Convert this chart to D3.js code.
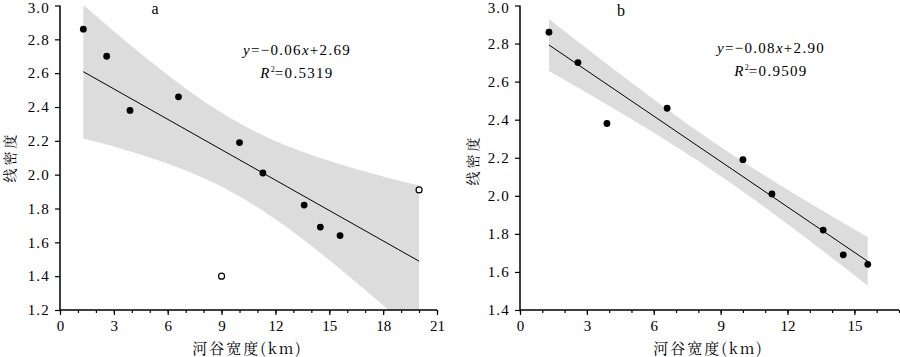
<!DOCTYPE html>
<html><head><meta charset="utf-8">
<script src="https://cdn.jsdelivr.net/npm/d3@7"></script>
<style>
body{margin:0;background:#fff;}
svg{display:block;}
text{font-family:"Liberation Serif","Times New Roman",serif;fill:#000;}
.cjk{font-family:"Noto Serif CJK SC","Noto Sans CJK SC",sans-serif;}
</style></head>
<body>
<svg id="c" width="900" height="357"></svg>
<script>
// ---- data ----
const widthA   = [1.3, 2.6, 3.9, 6.6, 10.0, 11.3, 13.6, 14.5, 15.6, 9.0, 20.0];
const densityA = [2.86, 2.70, 2.38, 2.46, 2.19, 2.01, 1.82, 1.69, 1.64, 1.40, 1.91];
const openA    = [false,false,false,false,false,false,false,false,false,true,true];
const widthB   = [1.3, 2.6, 3.9, 6.6, 10.0, 11.3, 13.6, 14.5, 15.6];
const densityB = [2.86, 2.70, 2.38, 2.46, 2.19, 2.01, 1.82, 1.69, 1.64];
const xTicksA = [0, 3, 6, 9, 12, 15, 18, 21];
const yTicksA = [1.2, 1.4, 1.6, 1.8, 2.0, 2.2, 2.4, 2.6, 2.8, 3.0];
const xTicksB = [0, 3, 6, 9, 12, 15];
const yTicksB = [1.4, 1.6, 1.8, 2.0, 2.2, 2.4, 2.6, 2.8, 3.0];
const eqA = ["−0.06", "+2.69", "0.5319"];
const eqB = ["−0.08", "+2.90", "0.9509"];
const tCrit = [2.262, 2.365]; // t(0.975, df) for n=11, n=9
const xLabel = "河谷宽度(km)";
const yLabel = "线密度";

const svg = d3.select("#c");

function fit(xs, ys){
  const n = xs.length, mx = d3.mean(xs), my = d3.mean(ys);
  let sxx=0, sxy=0;
  xs.forEach((x,i)=>{sxx+=(x-mx)*(x-mx); sxy+=(x-mx)*(ys[i]-my);});
  const b = sxy/sxx, a = my - b*mx;
  let sse=0; xs.forEach((x,i)=>{const r=ys[i]-(a+b*x); sse+=r*r;});
  const s = Math.sqrt(sse/(n-2));
  return {a,b,s,n,mx,sxx};
}

function panel(o){
  const g = svg.append("g");
  const x = d3.scaleLinear().domain(o.xDom).range(o.xR);
  const y = d3.scaleLinear().domain(o.yDom).range(o.yR);
  const id = "clip"+o.name;
  svg.append("clipPath").attr("id",id).append("rect")
    .attr("x",o.xR[0]).attr("y",o.yR[1]).attr("width",o.xR[1]-o.xR[0]).attr("height",o.yR[0]-o.yR[1]);

  const f = fit(o.xs, o.ys);
  const x0 = d3.min(o.xs), x1 = d3.max(o.xs);
  const samp = d3.range(0,101).map(i=>x0+(x1-x0)*i/100);
  const hw = v => o.t*f.s*Math.sqrt(1/f.n + (v-f.mx)*(v-f.mx)/f.sxx);
  const area = d3.area().x(d=>x(d)).y0(d=>y(f.a+f.b*d-hw(d))).y1(d=>y(f.a+f.b*d+hw(d)));
  g.append("path").attr("d",area(samp)).attr("fill","#dcdcdc").attr("clip-path",`url(#${id})`);
  g.append("line").attr("x1",x(x0)).attr("x2",x(x1)).attr("y1",y(f.a+f.b*x0)).attr("y2",y(f.a+f.b*x1))
    .attr("stroke","#000").attr("stroke-width",1);

  // axes
  const xa = g.append("g").attr("transform",`translate(0,${o.yR[0]})`)
    .call(d3.axisBottom(x).tickValues(d3.range(o.xDom[0],o.xDom[1]+1,1)).tickSize(3).tickFormat(""));
  xa.select(".domain").remove();
  const xb = g.append("g").attr("transform",`translate(0,${o.yR[0]})`)
    .call(d3.axisBottom(x).tickValues(o.xTicks).tickSize(5).tickPadding(5).tickFormat(d3.format("d")));
  xb.select(".domain").remove();
  xb.selectAll("text").style("font-size","15px");
  const yb = g.append("g").attr("transform",`translate(${o.xR[0]},0)`)
    .call(d3.axisLeft(y).tickValues(o.yTicks).tickSize(5).tickPadding(5).tickFormat(d3.format(".1f")));
  yb.select(".domain").remove();
  yb.selectAll("text").style("font-size","15px").attr("letter-spacing","1.2px")
    .attr("dy", d => d === o.yDom[1] ? "0.45em" : "0.32em");
  g.selectAll(".tick line").attr("stroke","#000").attr("stroke-width",1.2);
  g.append("path").attr("d",`M${o.xR[0]},${o.yR[1]}V${o.yR[0]}H${o.xR[1]}`)
    .attr("fill","none").attr("stroke","#000").attr("stroke-width",1.5);

  // points
  g.selectAll("circle.p").data(o.xs.map((v,i)=>({x:v,y:o.ys[i]})).filter((d,i)=>!(o.open&&o.open[i]))).enter()
    .append("circle").attr("cx",d=>x(d.x)).attr("cy",d=>y(d.y)).attr("r",3.4).attr("fill","#000");
  if(o.open){
    g.selectAll("circle.o").data(o.xs.map((v,i)=>({x:v,y:o.ys[i]})).filter((d,i)=>o.open[i])).enter()
      .append("circle").attr("cx",d=>x(d.x)).attr("cy",d=>y(d.y)).attr("r",3)
      .attr("fill","#fff").attr("stroke","#000").attr("stroke-width",1.2);
  }

  // labels
  g.append("text").attr("x",o.tagX).attr("y",o.tagY).attr("text-anchor","middle")
    .style("font-size","16px").text(o.name);
  const e1 = g.append("text").attr("x",o.eqX).attr("y",o.eqY).attr("text-anchor","middle")
    .style("font-size","15px").attr("letter-spacing","1.3px");
  e1.append("tspan").attr("font-style","italic").text("y");
  e1.append("tspan").text("=" + o.eq[0]);
  e1.append("tspan").attr("font-style","italic").text("x");
  e1.append("tspan").text(o.eq[1]);
  const e2 = g.append("text").attr("x",o.eqX).attr("y",o.eqY+23).attr("text-anchor","middle")
    .style("font-size","15px").attr("letter-spacing","1.3px");
  e2.append("tspan").attr("font-style","italic").text("R");
  e2.append("tspan").attr("dy",-6).style("font-size","8px").attr("letter-spacing","0px").text("2");
  e2.append("tspan").attr("dy",6).text("=" + o.eq[2]);

  g.append("text").attr("class","cjk").attr("x",(o.xR[0]+o.xR[1])/2 + o.xlOff).attr("y",354)
    .attr("text-anchor","middle").style("font-size","15px").attr("letter-spacing","2px").text(xLabel);
  g.append("text").attr("class","cjk").attr("transform",`translate(${o.ylX},${o.ylY}) rotate(-90)`)
    .attr("text-anchor","middle").attr("dy","0.35em").style("font-size","14px").attr("letter-spacing","3px").text(yLabel);
}

panel({name:"a", xs:widthA, ys:densityA, open:openA, t:tCrit[0],
  xDom:[0,21], yDom:[1.2,3.0], xR:[60,437], yR:[310,5.5],
  xTicks:xTicksA, yTicks:yTicksA, eq:eqA, eqX:297, eqY:55, tagX:155, tagY:14,
  ylX:10, ylY:157, xlOff:-1});
panel({name:"b", xs:widthB, ys:densityB, t:tCrit[1],
  xDom:[0,17], yDom:[1.4,3.0], xR:[520,899], yR:[310,5.5],
  xTicks:xTicksB, yTicks:yTicksB, eq:eqB, eqX:771, eqY:53, tagX:621, tagY:16,
  ylX:473, ylY:160, xlOff:-1});
</script>
</body></html>
